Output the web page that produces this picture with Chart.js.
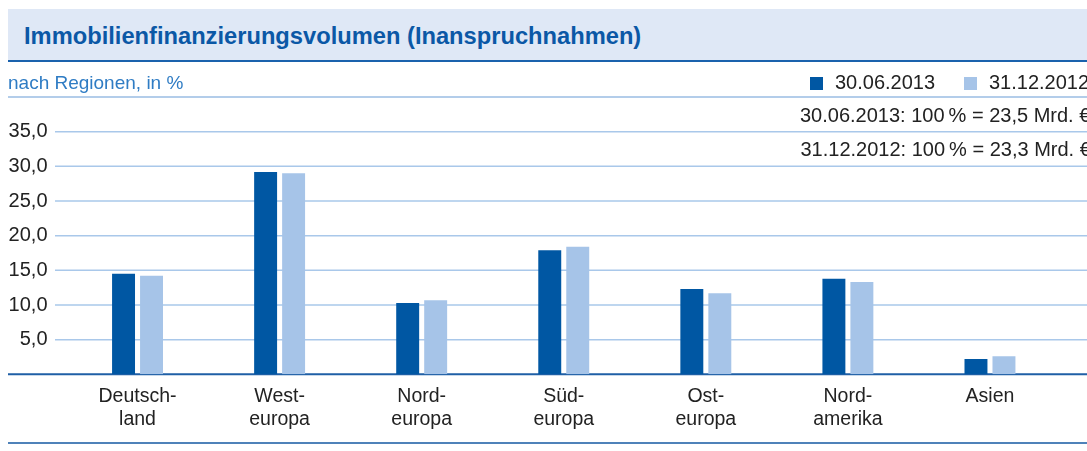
<!DOCTYPE html>
<html>
<head>
<meta charset="utf-8">
<script src="https://cdn.jsdelivr.net/npm/chart.js@4"></script>
<style>
  body { margin: 0; background: #fff; }
  #wrap { position: relative; width: 1087px; height: 451px; overflow: hidden; font-family: "Liberation Sans", Arial, sans-serif; }
  #c { position: absolute; left: 0; top: 0; }
  .band { position: absolute; left: 8px; right: 0; top: 9px; height: 51px; background: #dfe8f6; border-bottom: 2px solid #1a62ad; }
  .title { position: absolute; left: 24px; top: 24.8px; font-size: 23.7px; line-height: 23.7px; font-weight: bold; color: #0b58a6; white-space: nowrap; }
  .sub { position: absolute; left: 8px; top: 73.2px; font-size: 19px; line-height: 19px; color: #2f7cc4; white-space: nowrap; }
  .hline { position: absolute; left: 8px; right: 0; }
  .txt { position: absolute; font-size: 20px; line-height: 20px; color: #222; white-space: nowrap; }
  .sq { position: absolute; width: 13px; height: 13px; }
</style>
</head>
<body>
<div id="wrap">
  <canvas id="c" width="1087" height="451"></canvas>
  <div class="band"></div>
  <div class="title">Immobilienfinanzierungsvolumen (Inanspruchnahmen)</div>
  <div class="sub">nach Regionen, in %</div>
  <div class="hline" style="top:96px;height:1.5px;background:#b3cdea"></div>
  <div class="hline" style="top:442.3px;height:2px;background:#4f82b9"></div>
  <div class="sq" style="left:809.5px;top:76.5px;background:#0057a3"></div>
  <div class="txt" id="lg1" style="left:835px;top:71.6px"></div>
  <div class="sq" style="left:963.5px;top:76.5px;background:#a6c4e8"></div>
  <div class="txt" id="lg2" style="left:989px;top:71.6px"></div>
  <div class="txt" id="n1" style="left:800px;top:104.8px"></div>
  <div class="txt" id="n2" style="left:800.5px;top:138.8px"></div>
</div>
<script>
const categories = [['Deutsch-', 'land'], ['West-', 'europa'], ['Nord-', 'europa'], ['Süd-', 'europa'], ['Ost-', 'europa'], ['Nord-', 'amerika'], 'Asien']
const seriesNames = ['30.06.2013', '31.12.2012']
const values2013 = [14.5, 29.2, 10.3, 17.9, 12.3, 13.8, 2.2]
const values2012 = [14.2, 29.0, 10.7, 18.4, 11.7, 13.3, 2.6]
const totals = ['23,5', '23,3']
const yTicks = [5, 10, 15, 20, 25, 30, 35]

document.getElementById('lg1').textContent = seriesNames[0]
document.getElementById('lg2').textContent = seriesNames[1]
document.getElementById('n1').textContent = seriesNames[0] + ': 100\u2009% = ' + totals[0] + ' Mrd. €'
document.getElementById('n2').textContent = seriesNames[1] + ': 100\u2009% = ' + totals[1] + ' Mrd. €'

// horizontal grid lines and base line, drawn wider than the chart area
const gridPlugin = {
    id: 'grid',
    beforeDatasetsDraw(chart) {
        const ctx = chart.ctx
        const y = chart.scales.y
        ctx.save()
        ctx.strokeStyle = '#a9c8ea'
        ctx.lineWidth = 1.5
        yTicks.forEach(v => {
            const py = y.getPixelForValue(v)
            ctx.beginPath()
            ctx.moveTo(55, py)
            ctx.lineTo(chart.width, py)
            ctx.stroke()
        })
        ctx.strokeStyle = '#1f5fa6'
        ctx.lineWidth = 2
        const p0 = y.getPixelForValue(0)
        ctx.beginPath()
        ctx.moveTo(8, p0)
        ctx.lineTo(chart.width, p0)
        ctx.stroke()
        ctx.restore()
    }
}

const family = '"Liberation Sans", Arial, sans-serif'

new Chart(document.getElementById('c').getContext('2d'), {
    type: 'bar',
    data: {
        labels: categories,
        datasets: [
            { label: seriesNames[0], data: values2013, backgroundColor: '#0057a3' },
            { label: seriesNames[1], data: values2012, backgroundColor: '#a6c4e8' }
        ]
    },
    options: {
        responsive: false,
        animation: false,
        events: [],
        categoryPercentage: 0.394,
        barPercentage: 0.82,
        layout: { padding: { top: 131.7, right: 26, left: 0, bottom: 0 } },
        plugins: { legend: { display: false }, tooltip: { enabled: false } },
        scales: {
            x: {
                grid: { display: false },
                border: { display: false },
                ticks: { font: { family: family, size: 19.5, lineHeight: '23.4px' }, color: '#222', padding: 2.5, maxRotation: 0, autoSkip: false },
                afterFit: s => { s.height = 76.7 }
            },
            y: {
                min: 0,
                max: 35,
                grid: { display: false },
                border: { display: false },
                ticks: {
                    stepSize: 5,
                    font: { family: family, size: 20 },
                    color: '#222',
                    padding: 11,
                    callback: v => v === 0 ? '' : v.toFixed(1).replace('.', ',')
                },
                afterFit: s => { s.width = 66.5 }
            }
        }
    },
    plugins: [gridPlugin]
})
</script>
</body>
</html>
